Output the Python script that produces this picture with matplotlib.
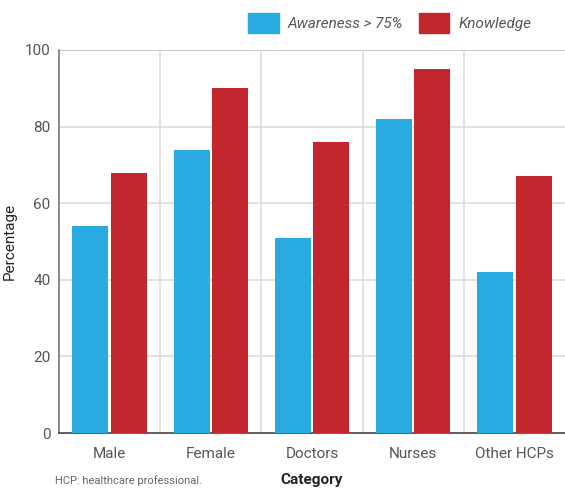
import matplotlib
matplotlib.use("Agg")
import matplotlib.pyplot as plt
from matplotlib.patches import Patch
import numpy as np

plt.rcParams["font.family"] = ["Liberation Sans Narrow", "Roboto", "DejaVu Sans"]

categories = ["Male", "Female", "Doctors", "Nurses", "Other HCPs"]
awareness = [54, 74, 51, 82, 42]
knowledge = [68, 90, 76, 95, 67]

C_BLUE = "#29ABE2"
C_RED = "#C1272D"
C_TEXT = "#555555"

fig = plt.figure(figsize=(5.65, 4.9), dpi=100)
ax = fig.add_axes([0.1044, 0.1163, 0.8956, 0.7817])

x = np.arange(len(categories))
bw = 0.355
ax.bar(x - 0.19, awareness, bw, color=C_BLUE, zorder=3)
ax.bar(x + 0.19, knowledge, bw, color=C_RED, zorder=3)

ax.set_xlim(-0.5, len(categories) - 0.5)
ax.set_ylim(0, 100)
ax.set_yticks([0, 20, 40, 60, 80, 100])
ax.set_xticks(x)
ax.set_xticklabels(categories)

# light grid: horizontal at y ticks, vertical at category boundaries
for yv in [20, 40, 60, 80]:
    ax.axhline(yv, color="#dddddd", lw=1.2, zorder=1)
ax.axhline(100, color="#bbbbbb", lw=1.2, zorder=1)
for xb in np.arange(0.5, len(categories) - 0.5, 1.0):
    ax.axvline(xb, color="#dddddd", lw=1.2, zorder=1)

for s in ["top", "right"]:
    ax.spines[s].set_visible(False)
ax.spines["left"].set_color("#777777")
ax.spines["bottom"].set_color("#444444")
ax.spines["left"].set_linewidth(1.2)
ax.spines["bottom"].set_linewidth(1.2)

ax.tick_params(axis="both", length=0, labelsize=11, colors=C_TEXT, pad=10)
ax.tick_params(axis="y", pad=6)

ax.set_ylabel("Percentage", fontsize=11, color="#222222", labelpad=6)
ax.set_xlabel("Category", fontsize=11, color="#222222", fontweight="bold",
              labelpad=9)

handles = [Patch(color=C_BLUE, label="Awareness > 75%"),
           Patch(color=C_RED, label="Knowledge")]
leg = fig.legend(handles=handles, loc="center left", bbox_to_anchor=(0.415, 0.953),
                 ncol=2, frameon=False, handlelength=2.0, handleheight=1.7,
                 columnspacing=1.0, handletextpad=0.6,
                 prop={"size": 11, "style": "italic"})
for t in leg.get_texts():
    t.set_color(C_TEXT)

fig.text(0.098, 0.008, "HCP: healthcare professional.", fontsize=8,
         color="#666666", ha="left", va="bottom")

fig.savefig("out.png", dpi=100)
